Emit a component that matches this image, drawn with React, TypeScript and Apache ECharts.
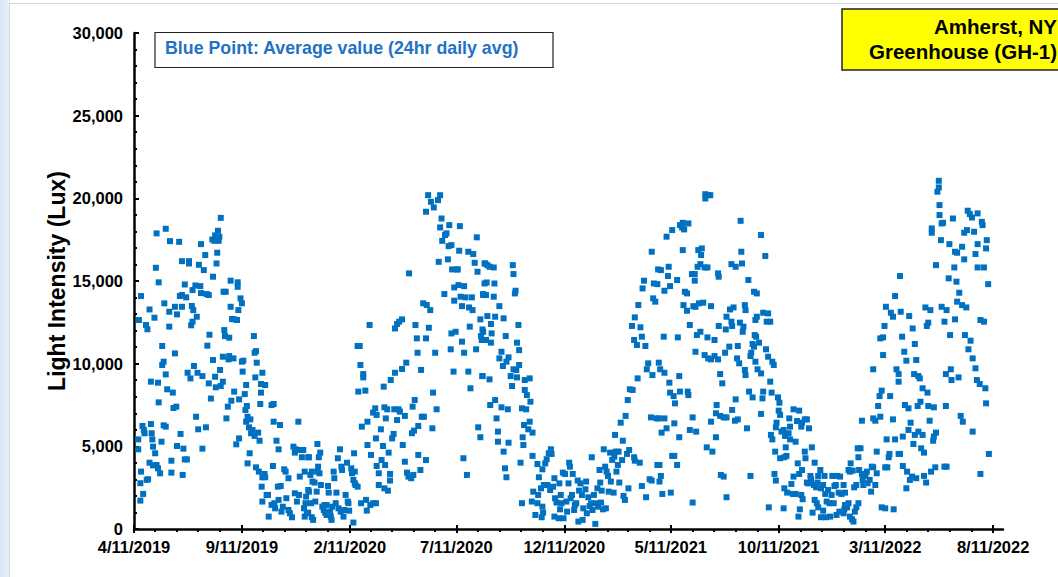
import React, { useEffect, useRef } from "react";
import * as echarts from "echarts";

// x tick labels (dates, M/D/YYYY)
const TICK_LABELS = [
  "4/11/2019", "9/11/2019", "2/11/2020", "7/11/2020", "12/11/2020",
  "5/11/2021", "10/11/2021", "3/11/2022", "8/11/2022",
];

// Daily average light intensity (Lux): [days since 4/11/2019, lux]
const obs2019: [number, number][] = [
  [6,5420],[6,4820],[7,12640],[10,14090],[10,3470],[9,2770],[9,1720],[13,2120],[12,6230],[14,5990],[17,12340],[19,12080],[15,5790],[18,2970],[20,3010],[22,13280],[24,6350],[24,8910],[25,5790],[26,5420],[27,4980],[30,4580],[22,4010],[27,3850],[32,3870],[37,3370],[34,3670],[29,12780],[31,15800],[32,17880],[35,14920],[34,8850],[35,7660],[40,11070],[40,9920],[42,10120],[39,5280],[42,6270],[45,6190],[43,13650],[45,18160],[45,9350],[47,8450],[50,13140],[50,12240],[51,17410],[55,8250],[53,4130],[53,3410],[58,10620],[56,7320],[60,7400],[58,13440],[61,12980],[61,5020],[64,17370],[66,5750],[65,14090],[68,13440],[68,16200],[68,14150],[70,4860],[69,3270],[72,14790],[74,14010],[72,4210],[75,4210],[76,9450],[78,16200],[78,16060],[80,9110],[82,13490],[83,14450],[84,13240],[85,9860],[87,14730],[81,12320],[83,12540],[88,6790],[89,12840],[91,6030],[90,9450],[92,15980],[94,14690],[95,14270],[97,9250],[97,4860],[95,17230],[99,15660],[101,16570],[102,6150],[103,14210],[104,11090],[106,14150],[106,8810],[107,11750],[109,7890],[111,17510],[112,15260],[112,10220],[114,17430],[115,9210],[115,17760],[116,8570],[118,17620],[118,16710],[117,16060],[119,18040],[120,17430],[121,17680],[123,18820],[122,9620],[123,8650],[126,8910],[127,14350],[126,10420],[128,12030],[129,11670],[130,14350],[131,6690],[133,7400],[134,10260],[135,11570],[135,10460],[137,15020],[137,13440],[138,7760],[139,12700],[141,10320],[142,8310],[142,12680],[145,5120],[146,12640],[147,14920],[147,14650],[148,13240],[149,7840],[149,5480],[151,13950],[153,13650],[153,10120],[154,9520],[155,10180],[157,8160],[159,8710],[158,7200],[160,7440],[159,6490],[161,6790],[161,3970],[164,4580],[163,6150],[165,6630],[166,5790],[168,5990],[170,11670],[171,10660],[173,10760],[174,10060],[172,9170],[171,5630],[173,3730],[176,5830],[178,5340],[177,3470],[179,7560],[180,8770],[182,9450],[182,3130],[181,2560],[182,1660],[180,8250],[185,3330],[186,3130],[186,8710],[188,2060],[190,2060],[191,750],[195,7500],[197,3810],[198,7560],[198,6490],[195,1460],[199,1560],[200,1250],[202,5340],[205,4820],[204,2560],[205,1760],[208,2600],[207,6290],[209,1050],[211,1350],[213,3610],[215,3470],[216,1860],[219,3070],[219,1150],[221,950],[224,710],[226,4980],[228,4620],[228,2160],[229,4820],[231,1660],[233,6490],[234,2060],[236,4780],[235,3170],[238,4340],[240,4780],[241,1250],[242,750],[242,3470],[243,1560],[244,1960],[245,950],[247,2360],[247,4340],
];

const obs2020a: [number, number][] = [
  [248,4340],[252,3470],[253,2870],[250,3270],[248,2260],[251,1560],[247,990],[252,710],[254,550],[256,2810],[257,1660],[260,5140],[262,4340],[261,3770],[264,4620],[260,3470],[263,3370],[259,2260],[265,2660],[267,1350],[269,1150],[271,990],[270,1450],[273,850],[273,1450],[275,2600],[276,2200],[278,1050],[279,750],[280,550],[281,1350],[283,3470],[284,3070],[286,1560],[287,2200],[289,4280],[292,4820],[290,1250],[293,1050],[294,3770],[295,3570],[297,750],[298,1150],[300,2060],[302,4010],[304,1560],[305,1110],[303,1660],[308,3670],[309,3370],[312,4580],[311,2970],[313,3470],[313,2770],[314,2660],[317,2560],[311,390],[317,11070],[320,11070],[321,9920],[325,9370],[325,9170],[318,8310],[328,8370],[322,1560],[329,1760],[330,1110],[323,6190],[331,6490],[331,5080],[334,12340],[336,4480],[335,1450],[339,1560],[343,1560],[339,7040],[342,7300],[344,6900],[343,5480],[344,3810],[347,2660],[350,6030],[347,3370],[351,4170],[353,5020],[354,8610],[355,7360],[356,3870],[357,6690],[355,2460],[360,2320],[359,7240],[361,4620],[363,3330],[363,2930],[364,9010],[366,5480],[368,5750],[370,9450],[370,12130],[373,12400],[376,12540],[380,12680],[369,7240],[373,6590],[375,7240],[377,7100],[380,9680],[381,5080],[384,4070],[384,6840],[387,3410],[386,10060],[389,3170],[390,15460],[393,3070],[396,3270],[394,5790],[397,5950],[395,7400],[398,7800],[399,12340],[401,11530],[402,10660],[403,6230],[403,4480],[406,3570],[407,9620],[408,6790],[410,13650],[411,6790],[414,11530],[414,4170],[415,13550],[414,19190],[417,20190],[420,13240],[421,19790],[418,12170],[423,6090],[424,8250],[425,19450],[427,10660],[429,7240],[431,19890],[432,16160],[434,20190],[434,18240],[436,18780],[437,17430],[440,14210],[441,17780],[443,17880],[445,16310],[446,17110],[447,18380],[449,10870],[450,17170],[450,11830],[451,15700],[453,9520],[454,13810],[454,14610],[456,11930],[458,15700],[459,15700],[460,14750],[461,16830],[462,18320],[463,14050],[465,11330],[465,13480],[467,4280],[468,10660],[468,14690],[470,14010],[472,3270],[474,16770],[474,9520],[475,13400],[476,12240],[477,8510],[479,14010],[480,13240],[481,16630],[483,16100],[485,10870],[486,17640],[487,15560],[488,6150],[491,5550],[491,12680],[492,11670],[493,11430],[494,12070],[494,9250],[495,14210],[497,16060],[497,14850],
];

const obs2020b: [number, number][] = [
  [498,16060],[501,15960],[504,15860],[510,15820],[500,14910],[511,14850],[495,14150],[499,14150],[510,14050],[518,13480],[501,12880],[512,12840],[506,12400],[507,11830],[495,11930],[499,11430],[506,11270],[524,12740],[527,11670],[521,10720],[518,10320],[531,10380],[528,10120],[523,9860],[537,15960],[538,15420],[540,14250],[541,14410],[545,12340],[543,11270],[546,10820],[546,9920],[538,9660],[542,9620],[534,9250],[536,8650],[543,9170],[554,9010],[561,9110],[554,8410],[557,8100],[562,7700],[550,7300],[556,7240],[561,6490],[553,6290],[559,6030],[565,5830],[551,5550],[552,5080],[494,9250],[504,9050],[505,7500],[512,7800],[521,7360],[530,7240],[514,6690],[516,5890],[516,5280],[531,5220],[524,4680],[526,3670],[528,3130],[548,4010],[565,4420],[572,3930],[574,3130],[550,1560],[564,1660],[566,2260],[569,850],[572,1560],[573,2060],[577,2460],[578,710],[579,1350],[580,990],[581,2660],[579,3610],[583,3970],[585,4220],[588,4580],[591,4820],[592,4540],[586,2660],[590,2360],[594,2560],[596,3070],[597,1860],[599,1600],[596,750],[602,650],[604,1190],[603,2760],[605,2060],[606,1560],[608,3410],[609,650],[611,3330],[613,1660],[614,1050],[616,2760],[617,4010],[618,3770],[619,1860],[621,2060],[622,3330],[624,1150],[625,1450],[627,1560],[629,2930],[630,450],[631,2320],[633,2760],[635,2060],[636,550],[637,1250],[640,2400],[641,2870],[642,950],[644,1920],[646,1390],[648,1560],[649,4340],[650,1150],[652,2060],[654,310],[656,1560],[657,2460],[658,1350],[660,3570],[661,2810],[662,1600],[663,2320],[665,1190],[666,4820],[668,3770],[669,1250],[670,3470],[672,3210],[673,2260],[675,4620],[676,2870],[678,4180],[680,2200],[681,4380],[682,5690],[683,4680],[684,3470],[686,3870],[687,4680],[688,2810],[690,6430],[692,4170],[693,5340],[694,2000],[696,1760],[697,6840],[699,4540],[700,7800],[701,2460],[702,4780],[703,8450],[707,8410],[706,12280],[709,4340],[710,4130],[709,11430],[710,12800],[713,11130],[715,13550],[714,9110],[717,4010],[718,12200],[720,2600],[720,11630],[721,14550],[723,15020],[725,11070],[726,1920],[727,9660],[729,10020],[731,3010],[733,6750],[734,2930],[735,9310],[736,13950],[737,14850],[739,13750],[741,6690],[742,3870],[742,14810],[743,15700],[734,16770],
];

const obs2021: [number, number][] = [
  [747,15660],[755,17680],[758,15860],[757,15300],[760,14690],[752,14410],[763,18080],[770,15060],[774,18380],[777,18240],[780,18120],[778,18520],[786,18480],[778,16870],[781,14350],[784,14250],[779,13540],[784,13200],[791,15420],[795,15420],[795,15020],[788,12340],[793,13480],[798,11730],[800,16870],[805,16970],[804,16570],[799,15860],[803,16020],[809,15820],[813,15820],[801,13650],[807,13690],[796,13440],[810,20250],[814,20190],[817,20190],[810,19990],[803,11930],[813,11590],[818,13480],[823,11430],[796,10720],[809,10520],[814,10320],[818,10260],[823,10460],[828,10260],[829,15260],[828,15460],[829,12280],[831,9370],[834,8810],[838,10660],[840,12840],[839,12070],[844,11030],[845,13280],[850,13400],[847,12540],[848,12280],[847,16020],[853,15860],[860,18640],[861,16770],[862,16060],[856,11070],[858,10020],[855,10320],[859,12480],[864,12240],[863,11930],[866,13540],[867,13240],[866,9620],[867,9310],[871,15060],[879,14350],[883,14250],[881,12640],[883,12840],[880,11730],[877,11190],[879,11030],[882,11630],[886,11270],[874,10460],[875,10660],[881,10120],[884,9660],[889,9410],[889,17780],[895,16510],[892,13080],[899,13040],[897,12540],[902,12540],[896,10870],[899,10420],[905,10120],[907,9920],[902,8910],[872,8310],[877,7960],[892,8310],[891,7900],[904,8250],[913,7960],[915,7640],[914,7160],[916,6900],[911,6430],[910,6150],[918,5890],[921,5990],[923,5630],[924,4940],[925,4420],[922,4340],[916,4280],[903,5690],[905,5420],[909,4680],[929,6690],[930,6190],[928,5790],[930,5420],[935,7240],[938,5280],[940,6530],[943,7160],[946,6190],[947,6430],[951,6630],[954,6630],[957,6090],[961,4940],[951,4680],[952,4280],[941,3970],[965,4010],[947,3570],[935,3170],[943,3330],[959,3210],[908,3330],[910,2930],[922,2460],[926,2200],[932,2720],[934,2120],[938,2120],[946,2060],[948,1800],[954,2810],[956,2760],[960,3010],[964,2660],[967,2520],[969,2810],[970,3210],[973,3570],[974,2460],[977,2660],[979,3210],[980,2120],[982,1660],[984,2360],[986,1560],[987,750],[989,2060],[990,3210],[992,1560],[993,2600],[965,1760],[968,1560],[970,1310],[977,1110],[974,710],[981,710],[962,990],[944,1190],[942,750],[921,1250],[900,1310],[840,1920],[792,1600],[761,2200],[749,2120],[747,3210],[745,2870],[745,3870],[770,3870],[766,4420],[763,4420],[832,3270],[836,3170],[874,3210],[812,4940],[820,4680],[792,6750],[788,5990],[797,5890],[773,5550],[766,6390],[755,6090],[748,5830],[744,6690],[752,6690],[825,5550],[826,7500],[825,7000],[831,6840],[836,6750],[840,6750],[818,6490],[852,6550],[856,6630],[848,7200],[853,7840],[869,6090],[889,6960],[759,8850],[760,8250],[765,8040],[767,7600],[773,9250],[774,8310],[785,8310],[786,8100],[744,10060],[746,9660],[752,9450],[751,11630],[771,11590],
];

const obs2022: [number, number][] = [
  [995,2660],[997,3210],[999,2200],[1001,3170],[1003,2120],[1006,2660],[1008,2200],[1011,1310],[1013,1560],[1015,750],[1018,590],[1020,450],[1022,1050],[1024,1310],[1027,1560],[1008,1450],[1006,950],[1000,1050],[996,850],[1007,1190],[1013,3570],[1015,3470],[1016,3970],[1019,3530],[1021,2520],[1024,2660],[1027,4340],[1026,4880],[1030,4880],[1028,3570],[1032,3330],[1033,2970],[1034,2660],[1037,3210],[1039,3470],[1040,2770],[1043,2970],[1045,2260],[1046,3770],[1048,3730],[1051,2660],[1053,3370],[1053,4680],[1051,6550],[1048,6690],[1032,6550],[1048,9660],[1055,7440],[1058,6790],[1057,8040],[1060,8370],[1062,10520],[1058,11530],[1062,11590],[1064,12280],[1066,13440],[1073,13080],[1076,12840],[1072,8040],[1067,5420],[1070,4340],[1071,4540],[1065,3730],[1068,3730],[1060,1310],[1065,1250],[1077,1190],[1076,6630],[1079,5420],[1079,14090],[1081,9660],[1084,9370],[1084,8910],[1086,15300],[1087,13140],[1089,11630],[1084,4540],[1086,4540],[1090,5590],[1092,10720],[1093,7500],[1095,10180],[1090,3810],[1096,3470],[1095,2460],[1098,7300],[1098,5990],[1099,12880],[1101,6430],[1100,2970],[1103,3170],[1104,12130],[1106,9370],[1107,11190],[1109,10220],[1105,5140],[1107,5690],[1109,3070],[1111,7440],[1112,5890],[1112,9250],[1114,9110],[1115,7700],[1116,4880],[1118,5690],[1118,8510],[1120,4620],[1120,3210],[1123,2810],[1125,8250],[1122,13400],[1124,12280],[1126,12480],[1129,13240],[1126,7440],[1128,6550],[1130,3470],[1133,5340],[1134,7360],[1134,5590],[1137,5830],[1136,3730],[1137,15960],[1131,18180],[1131,17920],[1139,20400],[1141,20660],[1141,21060],[1142,19590],[1142,18990],[1145,18480],[1147,18520],[1144,17470],[1145,13440],[1149,3770],[1149,12540],[1152,13240],[1151,7440],[1152,3770],[1151,9370],[1155,15160],[1156,17230],[1157,11730],[1158,9660],[1159,9010],[1161,18780],[1163,15820],[1164,16770],[1164,12680],[1166,14960],[1167,16710],[1167,13750],[1169,9170],[1170,14290],[1174,17070],[1172,6840],[1174,13540],[1175,6490],[1177,17920],[1177,16310],[1178,11730],[1180,13400],[1181,18080],[1182,19250],[1183,10870],[1185,19050],[1186,11390],[1188,18840],[1189,10320],[1189,5890],[1191,17980],[1193,9720],[1193,16630],[1195,9010],[1196,19090],[1196,15820],[1196,17230],[1199,8770],[1200,3330],[1200,12640],[1202,18580],[1203,18380],[1205,12540],[1205,15820],[1207,8510],[1208,16970],[1209,17470],[1208,7600],[1211,14810],[1212,4540],
];

const BASE = Date.UTC(2019, 3, 11);
const DAY = 86400000;
const X_MAX = 1232;

function parseDay(s: string): number {
  const [m, d, y] = s.split("/").map(Number);
  return Math.round((Date.UTC(y, m - 1, d) - BASE) / DAY);
}

const majorDays = TICK_LABELS.map(parseDay);
const monthDays: number[] = [];
for (let i = 0; i <= 40; i++) {
  monthDays.push(Math.round((Date.UTC(2019, 3 + i, 11) - BASE) / DAY));
}

const FONT = '"Liberation Sans", Arial, sans-serif';

export default function App() {
  const ref = useRef<HTMLDivElement>(null);

  useEffect(() => {
    if (!ref.current) return;
    const chart = echarts.init(ref.current, null, { renderer: "svg" });
    const data = [...obs2019, ...obs2020a, ...obs2020b, ...obs2021, ...obs2022];
    const baseX = {
      type: "value" as const,
      gridIndex: 0,
      position: "bottom" as const,
      min: 0,
      max: X_MAX,
      splitLine: { show: false },
    };
    chart.setOption({
      animation: false,
      backgroundColor: "#ffffff",
      grid: { left: 134, top: 33, width: 869, height: 496 },
      xAxis: [
        {
          ...baseX,
          axisLine: { show: true, lineStyle: { color: "#000", width: 2.5 } },
          axisTick: {
            show: true,
            customValues: majorDays,
            length: 4,
            lineStyle: { color: "#000", width: 2 },
          },
          axisLabel: {
            show: true,
            customValues: majorDays,
            margin: 9,
            color: "#000",
            fontWeight: "bold",
            fontSize: 16.5,
            fontFamily: FONT,
            formatter: (v: number) => {
              const i = majorDays.indexOf(Math.round(v));
              return i >= 0 ? TICK_LABELS[i] : "";
            },
          },
        },
        {
          ...baseX,
          axisLine: { show: false },
          axisLabel: { show: false },
          axisTick: {
            show: true,
            inside: true,
            customValues: majorDays,
            length: 4,
            lineStyle: { color: "#000", width: 2 },
          },
        },
        {
          ...baseX,
          axisLine: { show: false },
          axisLabel: { show: false },
          axisTick: {
            show: true,
            customValues: monthDays,
            length: 3,
            lineStyle: { color: "#000", width: 2 },
          },
        },
      ],
      yAxis: {
        type: "value",
        min: 0,
        max: 30000,
        interval: 5000,
        splitLine: { show: false },
        axisLine: { show: true, lineStyle: { color: "#000", width: 2.5 } },
        axisTick: { show: true, inside: true, length: 5, lineStyle: { color: "#000", width: 2 } },
        minorTick: { show: true, splitNumber: 5, length: 3, lineStyle: { color: "#000", width: 2 } },
        axisLabel: {
          margin: 11,
          color: "#000",
          fontWeight: "bold",
          fontSize: 16.5,
          fontFamily: FONT,
          formatter: (v: number) => String(v).replace(/\B(?=(\d{3})+(?!\d))/g, ","),
        },
        name: "Light Intensity (Lux)",
        nameLocation: "middle",
        nameRotate: 90,
        nameGap: 66,
        nameMoveOverlap: false,
        nameTextStyle: { color: "#000", fontWeight: "bold", fontSize: 23, fontFamily: FONT },
      },
      graphic: [
        {
          type: "rect",
          z: -10,
          shape: { x: 0, y: 0, width: 10, height: 577 },
          style: {
            fill: new echarts.graphic.LinearGradient(0, 0, 1, 0, [
              { offset: 0, color: "#d6e4f5" },
              { offset: 1, color: "#eaf1fa" },
            ]),
          },
        },
        { type: "line", z: -9, shape: { x1: 9.5, y1: 3, x2: 9.5, y2: 577 }, style: { stroke: "#d3d7dd", lineWidth: 1 } },
        { type: "line", z: -9, shape: { x1: 9, y1: 3.5, x2: 1058, y2: 3.5 }, style: { stroke: "#d3d7dd", lineWidth: 1 } },
        {
          type: "rect",
          shape: { x: 155, y: 32.5, width: 398, height: 35 },
          style: { fill: "#ffffff", stroke: "#222", lineWidth: 1.2 },
        },
        {
          type: "text",
          x: 165,
          y: 48,
          style: {
            text: "Blue Point: Average value (24hr daily avg)",
            fill: "#1f72c4",
            font: `bold 17.8px ${FONT}`,
            verticalAlign: "middle",
            align: "left",
          },
        },
        {
          type: "rect",
          shape: { x: 842, y: 9, width: 240, height: 61 },
          style: { fill: "#ffff00", stroke: "#222", lineWidth: 1.5 },
        },
        {
          type: "text",
          x: 1057,
          y: 26,
          style: { text: "Amherst, NY", fill: "#000", font: `bold 20.5px ${FONT}`, align: "right", verticalAlign: "middle" },
        },
        {
          type: "text",
          x: 1057,
          y: 51,
          style: { text: "Greenhouse (GH-1)", fill: "#000", font: `bold 20.5px ${FONT}`, align: "right", verticalAlign: "middle" },
        },
      ],
      series: [
        {
          type: "scatter",
          xAxisIndex: 0,
          data,
          symbol: "rect",
          symbolSize: 6,
          itemStyle: { color: "#0070c0", opacity: 1 },
        },
      ],
    });
    return () => chart.dispose();
  }, []);

  return (
    <div
      ref={ref}
      style={{ position: "absolute", left: 0, top: 0, width: 1058, height: 577 }}
    />
  );
}
